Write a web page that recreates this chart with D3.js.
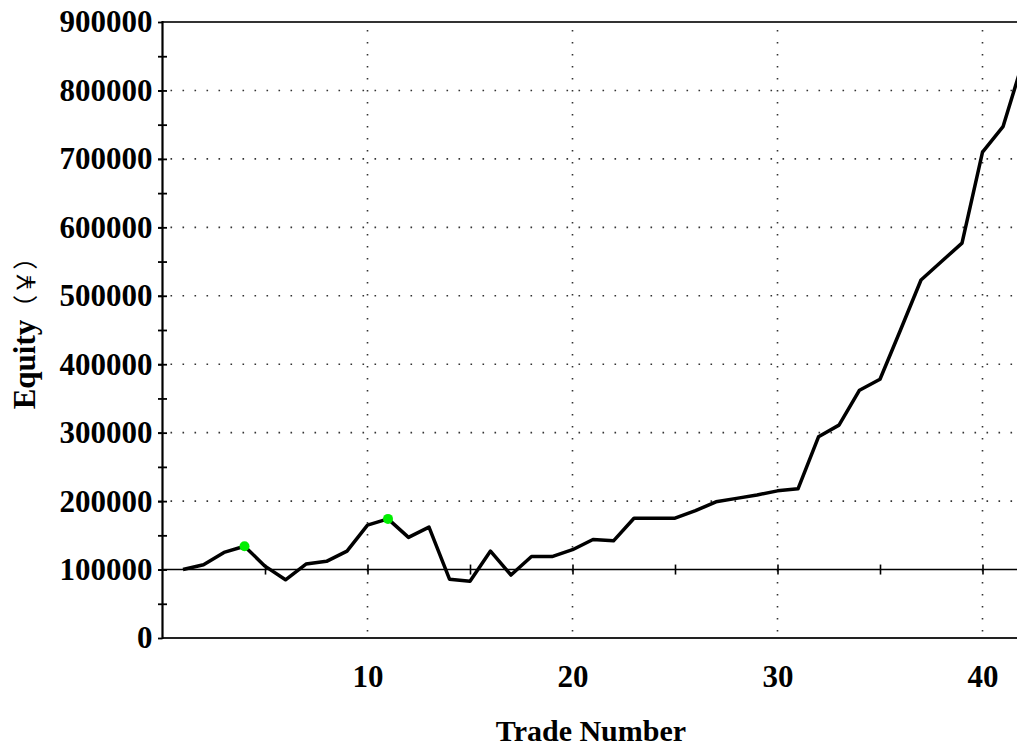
<!DOCTYPE html>
<html>
<head>
<meta charset="utf-8">
<script src="https://cdn.jsdelivr.net/npm/d3@7"></script>
<style>
  body { margin: 0; background: #fff; overflow: hidden; }
  svg { display: block; }
  .tick text { font-family: "Liberation Serif", "Times New Roman", serif; font-weight: bold; font-size: 31px; fill: #000; }
</style>
</head>
<body>
<div id="chart"></div>
<script>
// trade number and equity after each trade
var trades = [1, 2, 3, 4, 5, 6, 7, 8, 9, 10, 11, 12, 13, 14, 15, 16, 17, 18, 19, 20, 21,
              22, 23, 24, 25, 26, 27, 28, 29, 30, 31, 32, 33, 34, 35, 36, 37, 38, 39, 40, 41, 42];
var equity = [100000, 107000, 125000, 134000, 105000, 85000, 108000, 112000, 127000, 165000, 174000,
              147000, 162000, 86000, 83000, 127000, 92000, 119000, 119000, 129000, 144000, 142000,
              175000, 175000, 175000, 186000, 199000, 204000, 209000, 215000, 218000, 294000, 311000,
              362000, 378000, 450000, 523000, 550000, 577000, 710000, 747000, 845000];
// trades marked with a green dot (new equity highs)
var highlighted = [4, 11];

var xTicks = [10, 20, 30, 40];
var xMinorTicks = [5, 10, 15, 20, 25, 30, 35, 40];
var yTicks = [0, 100000, 200000, 300000, 400000, 500000, 600000, 700000, 800000, 900000];
var yGridTicks = [200000, 300000, 400000, 500000, 600000, 700000, 800000];
var startEquity = 100000;

(function() {
    var width = 1017, height = 746;

    var svg = d3.select('#chart')
      .append('svg')
        .attr('width', width)
        .attr('height', height);

    var x = d3.scaleLinear()
      .domain([0, 42])
      .range([162.5, 1023.5]);

    var y = d3.scaleLinear()
      .domain([0, 900000])
      .range([638, 22]);

    var yMinor = d3.range(50000, 900000, 50000);

    // dotted grid
    svg.append('g')
      .selectAll('line')
      .data(xTicks)
      .enter().append('line')
        .attr('x1', function(d) { return x(d); })
        .attr('x2', function(d) { return x(d); })
        .attr('y1', y(900000) + 8)
        .attr('y2', y(0))
        .attr('stroke', '#333')
        .attr('stroke-width', 1.6)
        .attr('stroke-dasharray', '1.6,10.4');

    svg.append('g')
      .selectAll('line')
      .data(yGridTicks)
      .enter().append('line')
        .attr('x1', x(0) + 8)
        .attr('x2', width)
        .attr('y1', function(d) { return y(d); })
        .attr('y2', function(d) { return y(d); })
        .attr('stroke', '#333')
        .attr('stroke-width', 1.6)
        .attr('stroke-dasharray', '1.6,10.4');

    // frame lines
    svg.append('line')
      .attr('x1', x(0)).attr('x2', width)
      .attr('y1', y(900000)).attr('y2', y(900000))
      .attr('stroke', '#333').attr('stroke-width', 2.2);
    svg.append('line')
      .attr('x1', x(0)).attr('x2', width)
      .attr('y1', y(0)).attr('y2', y(0))
      .attr('stroke', '#222').attr('stroke-width', 2.2);

    // starting equity line with small ticks every 5 trades
    svg.append('line')
      .attr('x1', x(0)).attr('x2', width)
      .attr('y1', y(startEquity)).attr('y2', y(startEquity))
      .attr('stroke', '#000').attr('stroke-width', 1.6);
    svg.append('g')
      .attr('transform', 'translate(0,' + y(startEquity) + ')')
      .call(d3.axisBottom(x).tickValues(xMinorTicks).tickSize(5).tickFormat(''))
      .call(function(g) { g.select('.domain').remove(); g.selectAll('line').attr('stroke-width', 1.6); });
    svg.append('g')
      .attr('transform', 'translate(0,' + y(startEquity) + ')')
      .call(d3.axisTop(x).tickValues(xMinorTicks).tickSize(5).tickFormat(''))
      .call(function(g) { g.select('.domain').remove(); g.selectAll('line').attr('stroke-width', 1.6); });

    // Y axis
    svg.append('g')
      .attr('transform', 'translate(' + x(0) + ',0)')
      .call(d3.axisLeft(y).tickValues(yMinor).tickSize(4.5).tickFormat(''))
      .call(function(g) { g.select('.domain').remove(); g.selectAll('line').attr('stroke-width', 1.8); });
    svg.append('g')
      .attr('transform', 'translate(' + x(0) + ',0)')
      .call(d3.axisRight(y).tickValues(yMinor).tickSize(4.5).tickFormat(''))
      .call(function(g) { g.select('.domain').remove(); g.selectAll('line').attr('stroke-width', 1.8); });
    svg.append('g')
      .attr('transform', 'translate(' + x(0) + ',0)')
      .call(d3.axisLeft(y).tickValues(yTicks).tickSize(4.5).tickPadding(5.5).tickFormat(d3.format('d')))
      .call(function(g) { g.select('.domain').remove(); g.selectAll('line').attr('stroke-width', 1.8); });
    svg.append('line')
      .attr('x1', x(0)).attr('x2', x(0))
      .attr('y1', y(900000) - 1).attr('y2', y(0) + 1)
      .attr('stroke', '#000').attr('stroke-width', 2.2);

    // X axis labels
    svg.append('g')
      .attr('transform', 'translate(0,' + y(0) + ')')
      .call(d3.axisBottom(x).tickValues(xTicks).tickSize(0).tickPadding(27))
      .call(function(g) { g.select('.domain').remove(); });

    // equity line
    var data = trades.map(function(t, i) { return {x: t, y: equity[i]}; });
    svg.append('path')
      .datum(data)
      .attr('fill', 'none')
      .attr('stroke', '#000')
      .attr('stroke-width', 3.5)
      .attr('stroke-linejoin', 'round')
      .attr('d', d3.line()
        .x(function(d) { return x(d.x); })
        .y(function(d) { return y(d.y); }));

    // new highs
    svg.append('g')
      .selectAll('circle')
      .data(data.filter(function(d) { return highlighted.indexOf(d.x) >= 0; }))
      .enter().append('circle')
        .attr('cx', function(d) { return x(d.x); })
        .attr('cy', function(d) { return y(d.y); })
        .attr('r', 5)
        .attr('fill', '#00ee00');

    // axis titles
    svg.append('text')
      .attr('x', 591)
      .attr('y', 741)
      .attr('text-anchor', 'middle')
      .style('font-family', '"Liberation Serif", "Times New Roman", serif')
      .style('font-weight', 'bold')
      .style('font-size', '30px')
      .text('Trade Number');

    var yTitle = svg.append('text')
      .attr('transform', 'translate(35,327) rotate(-90)')
      .attr('text-anchor', 'middle')
      .style('font-family', '"Liberation Serif", "Times New Roman", serif')
      .style('font-weight', 'bold')
      .style('font-size', '31px');
    yTitle.append('tspan').text('Equity');
    yTitle.append('tspan')
      .style('font-family', '"Noto Sans CJK SC", sans-serif')
      .style('font-weight', 'normal')
      .style('font-size', '25px')
      .text('（￥）');
})();
</script>
</body>
</html>
